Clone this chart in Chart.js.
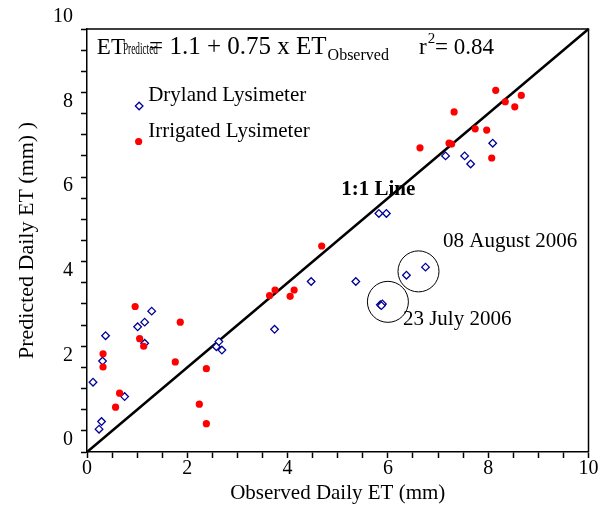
<!DOCTYPE html>
<html><head><meta charset="utf-8">
<script src="https://cdn.jsdelivr.net/npm/chart.js@4.4.0/dist/chart.umd.min.js"></script>
<style>html,body{margin:0;padding:0;background:#fff}#wrap{width:610px;height:508px}</style>
</head><body><div id="wrap"><canvas id="c" width="610" height="508"></canvas></div>
<script>
// ---- data ----
const dryX = [0.37,0.31,0.12,0.75,0.29,0.24,1.01,1.15,1.29,1.15,2.58,2.63,2.69,3.74,4.47,5.36,5.82,5.97,5.85,5.89,5.87,6.37,6.75,7.15,7.53,7.65,8.09];
const dryY = [2.75,2.15,1.65,1.31,0.72,0.54,2.96,3.07,3.33,2.57,2.49,2.61,2.41,2.90,4.03,4.03,5.64,5.64,3.48,3.50,3.46,4.18,4.37,7.00,7.00,6.81,7.30];
const irrX = [0.32,0.32,0.65,0.57,0.96,1.05,1.13,1.86,1.76,2.24,2.38,2.38,3.64,3.75,4.05,4.13,4.68,6.64,7.22,7.27,7.32,7.74,7.97,8.07,8.15,8.34,8.53,8.66];
const irrY = [2.32,2.01,1.39,1.06,3.44,2.68,2.50,3.07,2.13,1.13,0.67,1.97,3.70,3.83,3.68,3.83,4.87,7.19,7.30,7.28,8.04,7.64,7.61,6.95,8.55,8.28,8.16,8.43];
const lineX = [0,10];
const lineY = [0,10];
const circleX = [6.61,6.0];
const circleY = [4.27,3.55];
const tickValues = [0,0.5,1,1.5,2,2.5,3,3.5,4,4.5,5,5.5,6,6.5,7,7.5,8,8.5,9,9.5,10];
const tickLabels = ['0','2','4','6','8','10'];
const seriesNames = ['Dryland Lysimeter','Irrigated Lysimeter'];

const FONT = 'Liberation Serif';
const BLUE = '#000099', RED = '#ff0000';
const zip = (xs, ys) => xs.map((x,i)=>({x, y: ys[i]}));

const framePlugin = {
  id: 'frame',
  afterDraw(chart) {
    const {ctx, chartArea: a} = chart;
    ctx.save();
    ctx.strokeStyle = '#000'; ctx.lineWidth = 1.5;
    ctx.beginPath();
    ctx.moveTo(a.left, a.top); ctx.lineTo(a.right, a.top); ctx.lineTo(a.right, a.bottom);
    ctx.stroke();
    ctx.restore();
  }
};

const textPlugin = {
  id: 'texts',
  afterDatasetsDraw(chart) {
    const {ctx} = chart;
    const xs = chart.scales.x, ys = chart.scales.y;
    const px = v => xs.getPixelForValue(v), py = v => ys.getPixelForValue(v);
    ctx.save();
    ctx.fillStyle = '#000';
    ctx.textBaseline = 'alphabetic';
    ctx.textAlign = 'left';
    const txt = (s, x, y, size, bold, fitW) => {
      ctx.font = (bold ? 'bold ' : '') + size + 'px "' + FONT + '"';
      const w = ctx.measureText(s).width;
      if (fitW) {
        ctx.save(); ctx.translate(x, y); ctx.scale(fitW / w, 1); ctx.fillText(s, 0, 0); ctx.restore();
        return x + fitW;
      }
      ctx.fillText(s, x, y);
      return x + w;
    };
    // equation
    let x = px(0.196);
    const base = py(9.41);
    x = txt('ET', x, base, 23);
    txt('Predicted', x - 2, base, 16, false, 35);
    x = txt('= 1.1 + 0.75 x ET', px(1.238), base, 25);
    txt('Observed', x + 1, py(9.27), 16);
    x = txt('r', px(6.62), base, 23);
    txt('2', x + 1, py(9.67), 15);
    txt('= 0.84', px(6.94), base, 23);
    // legend
    txt(seriesNames[0], px(1.22), py(8.305), 21);
    txt(seriesNames[1], px(1.22), py(7.454), 21);
    const dx = px(1.04), dy = py(8.18), r = 3.8;
    ctx.strokeStyle = BLUE; ctx.lineWidth = 1.3; ctx.fillStyle = '#fff';
    ctx.beginPath(); ctx.moveTo(dx, dy - r); ctx.lineTo(dx + r, dy); ctx.lineTo(dx, dy + r); ctx.lineTo(dx - r, dy); ctx.closePath();
    ctx.fill(); ctx.stroke();
    ctx.fillStyle = RED;
    ctx.beginPath(); ctx.arc(px(1.03), py(7.34), 3.6, 0, Math.PI*2); ctx.fill();
    ctx.fillStyle = '#000';
    txt('1:1 Line', px(5.07), py(6.076), 21, true);
    txt('08 August 2006', px(7.1), py(4.846), 21);
    txt('23 July 2006', px(6.3), py(3.0), 21);
    ctx.restore();
  }
};

const axisCommon = (titleText, titleSize) => ({
  type: 'linear', min: 0, max: 10,
  afterBuildTicks: s => { s.ticks = tickValues.map(v => ({value: v})); },
  grid: { drawOnChartArea: false, drawTicks: true, tickLength: 6, tickColor: '#000', tickWidth: 1.5 },
  border: { display: true, color: '#000', width: 1.5 },
  ticks: {
    autoSkip: false, maxRotation: 0, color: '#000',
    font: { family: FONT, size: 20 },
    callback: v => tickLabels.includes(String(v)) ? String(v) : ''
  },
  title: { display: true, text: titleText, color: '#000', font: { family: FONT, size: titleSize } }
});

const xAxis = axisCommon('Observed Daily ET (mm)', 21);
xAxis.position = 'bottom';
xAxis.ticks.padding = -1;
xAxis.title.padding = { top: 0, bottom: 2 };
xAxis.afterFit = s => { s.height = 56; };

const yAxis = axisCommon('Predicted Daily ET (mm) )', 22);
yAxis.position = 'left';
yAxis.ticks.padding = 8;
yAxis.ticks.labelOffset = -12;
yAxis.title.padding = { top: 14, bottom: 0 };
yAxis.afterFit = s => { s.width = 87; };

new Chart(document.getElementById('c'), {
  type: 'scatter',
  data: {
    datasets: [
      { label: seriesNames[1], data: zip(irrX, irrY), order: 0, pointStyle: 'circle', pointRadius: 3.6,
        backgroundColor: RED, borderColor: RED, borderWidth: 0 },
      { label: seriesNames[0], data: zip(dryX, dryY), order: 1, pointStyle: 'rectRot', pointRadius: 3.8,
        backgroundColor: '#fff', borderColor: BLUE, borderWidth: 1.3 },
      { type: 'line', label: '1:1', data: zip(lineX, lineY), order: 2, borderColor: '#000', borderWidth: 2.5,
        pointRadius: 0, fill: false, showLine: true, clip: false },
      { label: 'circles', data: zip(circleX, circleY), order: 3, pointRadius: 20.5,
        backgroundColor: 'rgba(0,0,0,0)', borderColor: '#000', borderWidth: 1 }
    ]
  },
  options: {
    responsive: false, animation: false, devicePixelRatio: 1,
    layout: { padding: { left: 0, top: 29, right: 14, bottom: 0 } },
    plugins: { legend: { display: false }, tooltip: { enabled: false } },
    scales: { x: xAxis, y: yAxis }
  },
  plugins: [framePlugin, textPlugin]
});
</script></body></html>
